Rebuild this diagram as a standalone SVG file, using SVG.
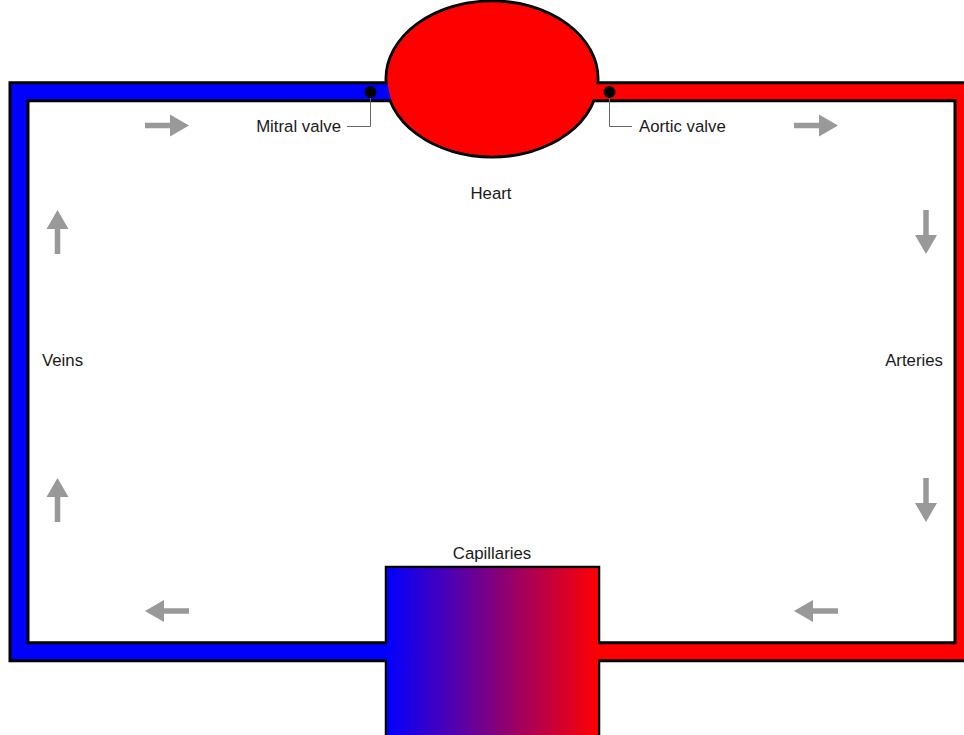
<svg xmlns="http://www.w3.org/2000/svg" width="964" height="735" viewBox="0 0 964 735">
<style>
.lbl{font-family:"Liberation Sans",Arial,sans-serif;font-size:16.8px;fill:#1a1a1a}
.outline{fill:none;stroke:#000;stroke-width:21;stroke-linejoin:miter}
.tube{fill:none;stroke-width:15;stroke-linejoin:miter}
.arrow{fill:#999}
.leader{fill:none;stroke:#666;stroke-width:1}
</style>
<defs>
<linearGradient id="capg" gradientUnits="userSpaceOnUse" x1="386" y1="0" x2="599" y2="0">
<stop offset="0" stop-color="#0000ff"/>
<stop offset="1" stop-color="#ff0000"/>
</linearGradient>
<path id="arr" d="M0,-2.75 L25,-2.75 L25,-11 L44,0 L25,11 L25,2.75 L0,2.75 Z"/>
</defs>
<rect width="964" height="735" fill="#fff"/>
<g id="connectors">
<path class="outline" d="M392,91.7 L19,91.7 L19,651.7 L392,651.7"/>
<path class="outline" d="M592,91.7 L964,91.7 L964,651.7 L594,651.7"/>
</g>
<g id="heart">
<ellipse cx="492" cy="79" rx="106" ry="78" fill="#ff0000" stroke="#000" stroke-width="3"/>
</g>
<g id="capillaries">
<rect x="386" y="567" width="213" height="180" fill="url(#capg)" stroke="#000" stroke-width="2.5"/>
</g>
<g id="tubes">
<path class="tube" stroke="#0000ff" d="M400,91.7 L19,91.7 L19,651.7 L396,651.7"/>
<path class="tube" stroke="#ff0000" d="M585,91.7 L964,91.7 L964,651.7 L590,651.7"/>
</g>
<g id="fills">
<ellipse cx="492" cy="79" rx="104.5" ry="76.5" fill="#ff0000"/>
<rect x="387.25" y="568.25" width="210.5" height="180" fill="url(#capg)"/>
</g>
<g id="mitral-valve">
<path class="leader" d="M370.5,92 L370.5,126.5 L347,126.5"/>
<circle cx="370.5" cy="92" r="6" fill="#000"/>
<text class="lbl" x="341" y="132" text-anchor="end">Mitral valve</text>
</g>
<g id="aortic-valve">
<path class="leader" d="M609.5,92 L609.5,126.5 L632,126.5"/>
<circle cx="609.5" cy="92" r="6" fill="#000"/>
<text class="lbl" x="639" y="132">Aortic valve</text>
</g>
<g id="labels">
<text class="lbl" x="491" y="199" text-anchor="middle">Heart</text>
<text class="lbl" x="42" y="366">Veins</text>
<text class="lbl" x="943" y="366" text-anchor="end">Arteries</text>
<text class="lbl" x="492" y="559" text-anchor="middle">Capillaries</text>
</g>
<g id="arrows">
<use href="#arr" class="arrow" transform="translate(145,125.5)"/>
<use href="#arr" class="arrow" transform="translate(794,125.5)"/>
<use href="#arr" class="arrow" transform="translate(926,210) rotate(90)"/>
<use href="#arr" class="arrow" transform="translate(926,478) rotate(90)"/>
<use href="#arr" class="arrow" transform="translate(838,611) rotate(180)"/>
<use href="#arr" class="arrow" transform="translate(189,611) rotate(180)"/>
<use href="#arr" class="arrow" transform="translate(57.5,522) rotate(-90)"/>
<use href="#arr" class="arrow" transform="translate(57.5,254) rotate(-90)"/>
</g>
</svg>
